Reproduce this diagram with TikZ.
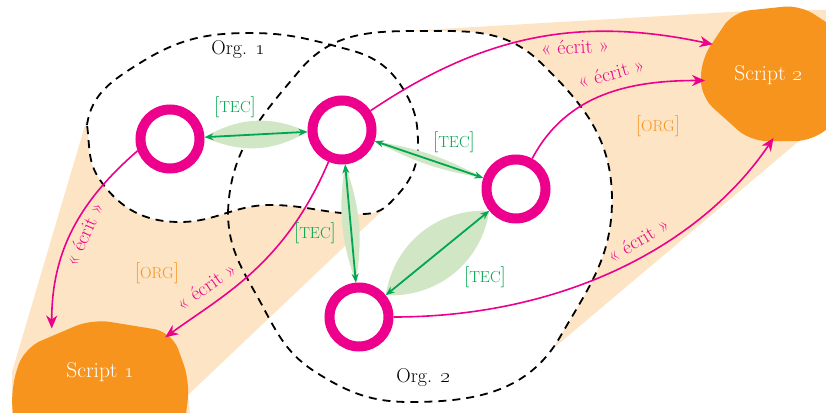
\documentclass[tikz,border=0pt]{standalone}
\usetikzlibrary{arrows.meta,calc,shapes.geometric}
\definecolor{mypink}{HTML}{EC008C}
\definecolor{mygreen}{HTML}{00A651}
\definecolor{mylens}{HTML}{D1E6C5}
\definecolor{myorange}{HTML}{F7941D}
\definecolor{mypeach}{HTML}{FDE4C4}
\newcommand\mysc[1]{{\fontsize{16}{18}\selectfont #1}}
\begin{document}
\begin{tikzpicture}[x=1pt,y=-1pt,
  ring/.style={circle,draw=mypink,line width=10pt,fill=white,minimum size=59pt,inner sep=0pt},
  tec/.style={draw=mygreen,line width=1.8pt,{Stealth[length=9pt,width=7pt]}-{Stealth[length=9pt,width=7pt]}},
  lens/.style={fill=mylens},
  ecrit/.style={draw=mypink,line width=1.6pt,-{Stealth[length=13pt,width=11pt,inset=4pt]}},
  elab/.style={text=mypink,font=\fontsize{20}{22}\selectfont,inner sep=1pt},
  teclab/.style={text=mygreen,font=\fontsize{21}{23}\selectfont},
  orglab/.style={text=myorange,font=\fontsize{21}{23}\selectfont},
  orgname/.style={font=\fontsize{20}{22}\selectfont},
  orgline/.style={draw=black,line width=1.8pt,dash pattern=on 8pt off 6pt},
  script/.style={ellipse,inner sep=0pt,text=white,font=\fontsize{21.5}{24}\selectfont}
]
\useasboundingbox (0,0) rectangle (826,412);

\def\OrgOnePath{(87,125) to[out=82,in=212] (140,63) to[out=32,in=180] (250,33)
  to[out=0,in=165] (350,50) to[out=-15,in=120] (405,92) to[out=-60,in=90] (418,145)
  to[out=-90,in=45] (390,203) to[out=225,in=0] (362,214) to[out=180,in=0] (270,205)
  to[out=180,in=0] (180,222) to[out=180,in=-55] (100,180) to[out=125,in=-82] (87,125) -- cycle}
\def\OrgTwoPath{(228,212) to[out=88,in=230] (300,70) to[out=50,in=180] (420,31)
  to[out=0,in=136] (540,62) to[out=-44,in=90] (612,200)
  to[out=-90,in=60] (560,337) to[out=240,in=0] (410,402)
  to[out=180,in=-32] (317,373) to[out=148,in=-62] (263,307)
  to[out=118,in=-90] (228,212) -- cycle}

% background regions
\fill[mypeach] (390,32) -- (765,10) -- (830,10) -- (830,130) -- (812,130) -- (555,347) -- (500,200) -- cycle;
\fill[white] \OrgTwoPath;
\fill[mypeach] (86,122) -- (12,372) -- (12,415) -- (190,415) -- (188,395) -- (386,207) -- (250,120) -- cycle;
\fill[white] \OrgOnePath;
\draw[orgline] \OrgTwoPath;
\draw[orgline] \OrgOnePath;

% script blobs
\fill[myorange,rounded corners=18pt] (11,388) -- (24,348) -- (92,319) -- (172,332) -- (190,382) -- (184,430) -- (14,430) -- cycle;
\fill[myorange,rounded corners=16pt] (701,60) -- (733,12) -- (800,5) -- (838,30) -- (838,120) -- (812,141) -- (750,141) -- (701,97) -- cycle;

\node[script,minimum width=174pt,minimum height=104pt] (S1) at (100,372) {Script \oldstylenums{1}};
\node[script,minimum width=126pt,minimum height=126pt] (S2) at (768,75) {Script \oldstylenums{2}};

% ring centres
\coordinate (cA) at (170,139);
\coordinate (cB) at (342,130);
\coordinate (cC) at (516,189);
\coordinate (cD) at (359,317);

% lenses
\fill[lens] ($(cA)!34.5pt!(cB)$) to[bend left=27] ($(cB)!34.5pt!(cA)$) to[bend left=27] ($(cA)!34.5pt!(cB)$);
\fill[lens] ($(cB)!34.5pt!(cC)$) to[bend left=9] ($(cC)!34.5pt!(cB)$) to[bend left=9] ($(cB)!34.5pt!(cC)$);
\fill[lens] ($(cB)!34.5pt!(cD)$) to[bend left=14] ($(cD)!34.5pt!(cB)$) to[bend left=14] ($(cB)!34.5pt!(cD)$);
\fill[lens] ($(cC)!34.5pt!(cD)$) to[bend left=42] ($(cD)!34.5pt!(cC)$) to[bend left=42] ($(cC)!34.5pt!(cD)$);

% rings
\node[ring] (A) at (cA) {};
\node[ring] (B) at (cB) {};
\node[ring] (C) at (cC) {};
\node[ring] (D) at (cD) {};

% TEC connectors
\draw[tec] (A) -- (B);
\draw[tec] (B) -- (C);
\draw[tec] (B) -- (D);
\draw[tec] (C) -- (D);

% ecrit connectors
\draw[ecrit] (A.200) to[out=221,in=90] (S1.138);
\draw[ecrit] (B) to[out=247,in=36,out looseness=1.19,in looseness=0.76] (S1.28);
\draw[ecrit] (B) to[out=34,in=168] (S2.151);
\draw[ecrit] (C) to[out=62,in=180] (S2.185);
\draw[ecrit] (D) to[out=0,in=236,out looseness=1.035,in looseness=0.79] (S2.275);

% labels
\node[orgname] (o1) at (238,50) {Org. \oldstylenums{1}};
\node[orgname] (o2) at (423,378) {Org. \oldstylenums{2}};
\node[teclab] (t1) at (235,107) {[\mysc{TEC}]};
\node[teclab] (t2) at (454,142) {[\mysc{TEC}]};
\node[teclab] (t3) at (315,233) {[\mysc{TEC}]};
\node[teclab] (t4) at (485,277) {[\mysc{TEC}]};
\node[orglab] (g1) at (157,273) {[\mysc{ORG}]};
\node[orglab] (g2) at (658,126) {[\mysc{ORG}]};
\node[elab,rotate=66] (e1) at (84,234) {«~écrit~»};
\node[elab,rotate=35] (e2) at (206,286) {«~écrit~»};
\node[elab,rotate=3] (e3) at (575,47) {«~écrit~»};
\node[elab,rotate=15] (e4) at (611,73) {«~écrit~»};
\node[elab,rotate=31] (e5) at (638,240) {«~écrit~»};
\end{tikzpicture}
\end{document}
